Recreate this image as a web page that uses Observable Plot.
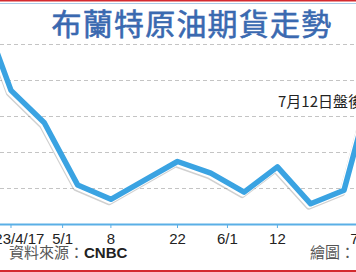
<!DOCTYPE html>
<html><head><meta charset="utf-8">
<script src="https://cdn.jsdelivr.net/npm/d3@7"></script>
<script src="https://cdn.jsdelivr.net/npm/@observablehq/plot@0.6"></script>
<style>
html,body{margin:0;padding:0;background:#fff;}
#wrap{position:relative;width:356px;height:272px;overflow:hidden;background:#fff;}
#chart,#overlay{position:absolute;left:0;top:0;}
</style>
</head><body>
<div id="wrap"><div id="chart"></div>
<svg id="overlay" width="356" height="272" xmlns="http://www.w3.org/2000/svg">
  <rect x="0" y="0" width="356" height="1.5" fill="#d42a2f"/>
  <rect x="0" y="3" width="356" height="1" fill="#a9cbe8"/>
  <text x="192" y="35" text-anchor="middle" font-family="Noto Sans CJK TC" font-size="30" font-weight="400" letter-spacing="1.2" fill="#3a69b0" stroke="#3a69b0" stroke-width="0.6">布蘭特原油期貨走勢</text>
  <text x="278" y="107" font-family="Noto Sans CJK TC" font-size="15" fill="#222">7月12日盤後</text>
  <text x="9" y="258" font-family="Noto Sans CJK TC" font-size="15" fill="#555">資料來源：<tspan font-family="Liberation Sans" font-weight="700" fill="#222">CNBC</tspan></text>
  <text x="310" y="258" font-family="Noto Sans CJK TC" font-size="15" fill="#555">繪圖：</text>
  <rect x="0" y="270" width="356" height="2" fill="#d42a2f"/>
</svg>
</div>
<script>
// data (x = weekly observation index, y = price, USD/barrel)
const obsIndex = [-1, 0, 1, 2, 3, 4, 5, 6, 7, 8, 9, 10, 11];
const brent    = [93.0, 82.9, 79.3, 72.4, 70.8, 72.9, 75.0, 73.7, 71.6, 74.4, 70.3, 71.8, 85.5];
const tickPos    = [0, 1.55, 3, 5, 6.5, 8, 10.5];
const tickLabels = ["2023/4/17", "5/1", "8", "22", "6/1", "12", "7/3"];
const gridValues = [72, 76, 80, 84, 88];
const baseValue  = 68;

const data = obsIndex.map((x, i) => ({x, y: brent[i]}));
const labelOf = new Map(tickPos.map((p, i) => [p, tickLabels[i]]));
const blue = "#3aa3e2";

const chart = Plot.plot({
  width: 356, height: 272,
  marginLeft: 0, marginRight: 0, marginTop: 44, marginBottom: 48,
  style: {background: "transparent", overflow: "visible"},
  x: {type: "linear", domain: [-0.315, 10.375], axis: null, label: null},
  y: {domain: [baseValue, 88], axis: null, label: null},
  marks: [
    Plot.ruleY(gridValues, {stroke: "#c4c4c4", strokeWidth: 1, strokeDasharray: "4,3"}),
    Plot.line(data, {x: "x", y: "y", stroke: "#777", strokeOpacity: 0.35, strokeWidth: 6, dx: -2, dy: 3, clip: true}),
    Plot.line(data, {x: "x", y: "y", stroke: "#fff", strokeWidth: 6, dx: -1.5, dy: 1.5, clip: true}),
    Plot.line(data, {x: "x", y: "y", stroke: blue, strokeWidth: 5.5, clip: true}),
    Plot.ruleY([baseValue], {stroke: "#5aafe6", strokeWidth: 2}),
    Plot.axisX(tickPos, {anchor: "bottom", label: null, tickSize: 4, tickPadding: 5, stroke: "#5aafe6",
      tickFormat: d => labelOf.get(d), fontSize: 15, fill: "#222",
      fontFamily: "Liberation Sans"})
  ]
});
document.getElementById("chart").appendChild(chart);
</script>
</body></html>
